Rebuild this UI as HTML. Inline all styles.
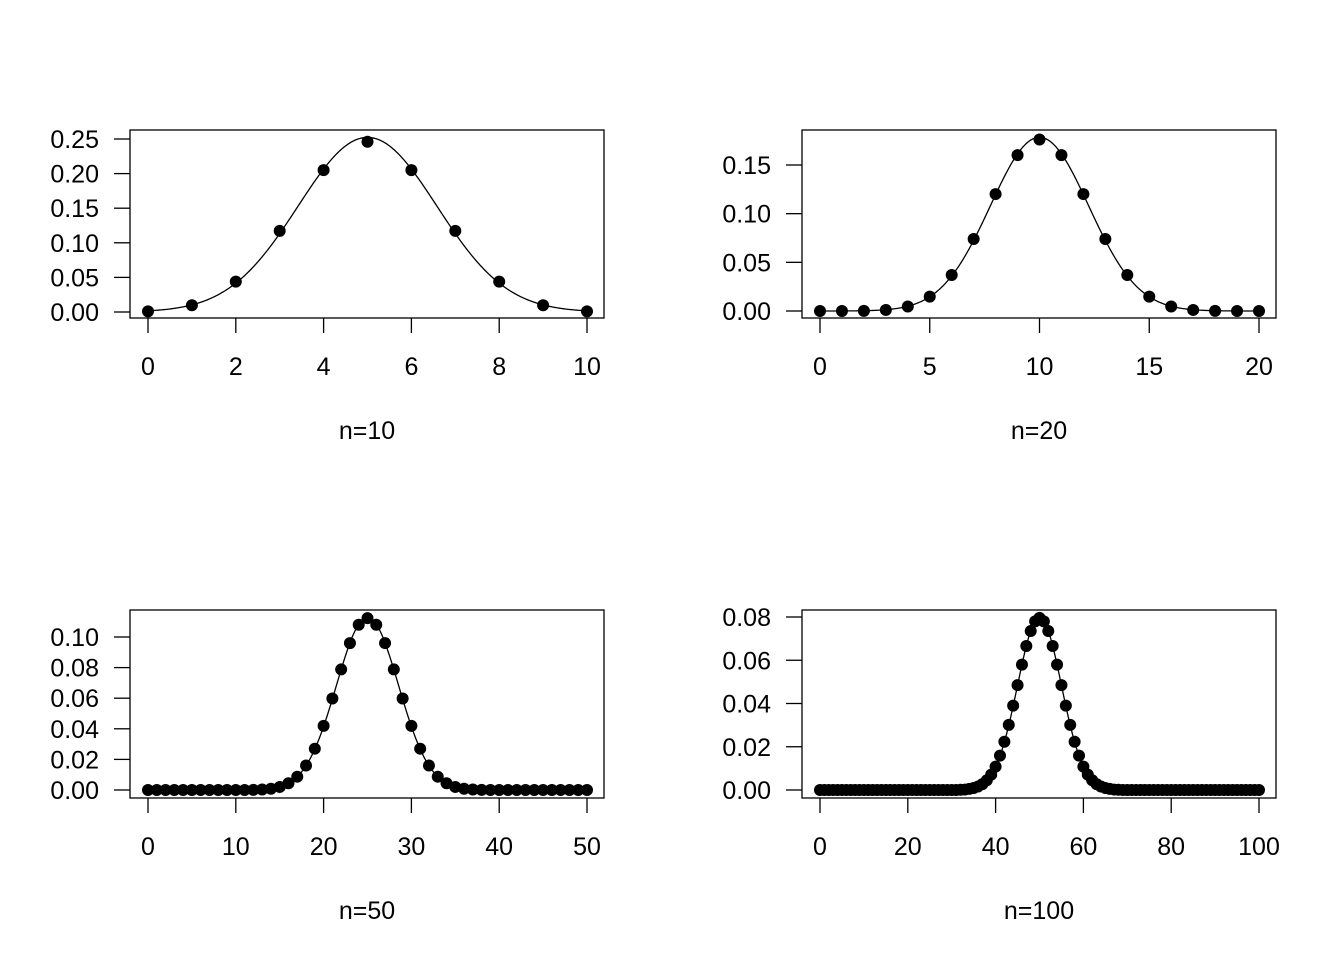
<!DOCTYPE html>
<html><head><meta charset="utf-8"><style>
body{margin:0;background:#fff}
svg text{font-family:"Liberation Sans",Arial,sans-serif;font-size:25px;fill:#000}
</style></head><body>
<svg id="c" width="1344" height="960"></svg>
<script>
const cats10=[0,1,2,3,4,5,6,7,8,9,10];
const vals10=[0.000977,0.009766,0.043945,0.117188,0.205078,0.246094,0.205078,0.117188,0.043945,0.009766,0.000977];
const vals20=[0.000001,0.000019,0.000181,0.001087,0.004621,0.014786,0.036964,0.073929,0.120134,0.160179,0.176197,0.160179,0.120134,0.073929,0.036964,0.014786,0.004621,0.001087,0.000181,0.000019,0.000001];
const vals50=[0,0,0,0,0,0,0,0,0,0,0,0,0.0001,0.0003,0.0008,0.0020,0.0044,0.0087,0.0160,0.0270,0.0419,0.0598,0.0788,0.0960,0.1080,0.1123,0.1080,0.0960,0.0788,0.0598,0.0419,0.0270,0.0160,0.0087,0.0044,0.0020,0.0008,0.0003,0.0001,0,0,0,0,0,0,0,0,0,0,0,0];
const half100=[0,0,0,0,0,0,0,0,0,0,0,0,0,0,0,0,0,0,0,0,0,0,0,0,0,0,0,0,0,0,0,0,0.0001,0.0002,0.0005,0.0009,0.0016,0.0027,0.0045,0.0071,0.0108,0.0159,0.0223,0.0301,0.0390,0.0485,0.0580,0.0666,0.0735,0.0780,0.0796];
const vals100=half100.concat(half100.slice(0,50).reverse());
const xTicks10=[0,2,4,6,8,10], yTicks10=["0.00","0.05","0.10","0.15","0.20","0.25"];
const xTicks20=[0,5,10,15,20], yTicks20=["0.00","0.05","0.10","0.15"];
const xTicks50=[0,10,20,30,40,50], yTicks50=["0.00","0.02","0.04","0.06","0.08","0.10"];
const xTicks100=[0,20,40,60,80,100], yTicks100=["0.00","0.02","0.04","0.06","0.08"];
const titles=["n=10","n=20","n=50","n=100"];

const NS="http://www.w3.org/2000/svg", svg=document.getElementById('c');
function mk(t,a,p){const e=document.createElementNS(NS,t);for(const k in a)e.setAttribute(k,a[k]);(p||svg).appendChild(e);return e;}
const panels=[
 {n:10,vals:vals10,xt:xTicks10,yt:yTicks10,bx:130,by:130,x0:148,x1:587,xmax:10,y0:312,y1:139,ymax:0.25,tx:367,ty:439},
 {n:20,vals:vals20,xt:xTicks20,yt:yTicks20,bx:802,by:130,x0:820,x1:1259,xmax:20,y0:311,y1:165,ymax:0.15,tx:1039,ty:439},
 {n:50,vals:vals50,xt:xTicks50,yt:yTicks50,bx:130,by:610,x0:148,x1:587,xmax:50,y0:790,y1:637,ymax:0.10,tx:367,ty:919},
 {n:100,vals:vals100,xt:xTicks100,yt:yTicks100,bx:802,by:610,x0:820,x1:1259,xmax:100,y0:790,y1:617,ymax:0.08,tx:1039,ty:919}];
panels.forEach((P,i)=>{
 const g=mk('g',{});
 
 
 const X=v=>P.x0+(P.x1-P.x0)*v/P.xmax, Y=v=>P.y0-(P.y0-P.y1)*v/P.ymax;
 const box=mk('rect',{x:P.bx,y:P.by,width:474,height:188,fill:'none',stroke:'#000','stroke-width':1.3},g);
 
 const bb=P.by+188;
 const xa=mk('g',{},g);
 P.xt.forEach(t=>{mk('line',{x1:X(t),x2:X(t),y1:bb,y2:bb+15,stroke:'#000','stroke-width':1.3},xa);
  const tx=mk('text',{x:X(t),y:P.by+245,'text-anchor':'middle'},xa);tx.textContent=t;
  });
 const ya=mk('g',{},g);
 P.yt.forEach(t=>{const y=Y(+t);mk('line',{x1:P.bx-16,x2:P.bx,y1:y,y2:y,stroke:'#000','stroke-width':1.3},ya);
  const tx=mk('text',{x:P.bx-31,y:y+9,'text-anchor':'end'},ya);tx.textContent=t;
  });
 const mu=P.n/2, sd=Math.sqrt(P.n)/2; let d='';
 for(let k=0;k<=400;k++){const x=P.n*k/400;const v=Math.exp(-(x-mu)*(x-mu)/(2*sd*sd))/(sd*Math.sqrt(2*Math.PI));d+=(k?'L':'M')+X(x).toFixed(2)+','+Y(v).toFixed(2);}
 const c=mk('path',{d:d,fill:'none',stroke:'#000','stroke-width':1.3},g);
 
 P.vals.forEach((v,k)=>{const p=mk('circle',{cx:X(k),cy:Y(v),r:6,fill:'#000'},g);
  });
 const t=mk('text',{x:P.tx,y:P.ty,'text-anchor':'middle'},g);t.textContent=titles[i];
 
});
</script>
</body></html>
